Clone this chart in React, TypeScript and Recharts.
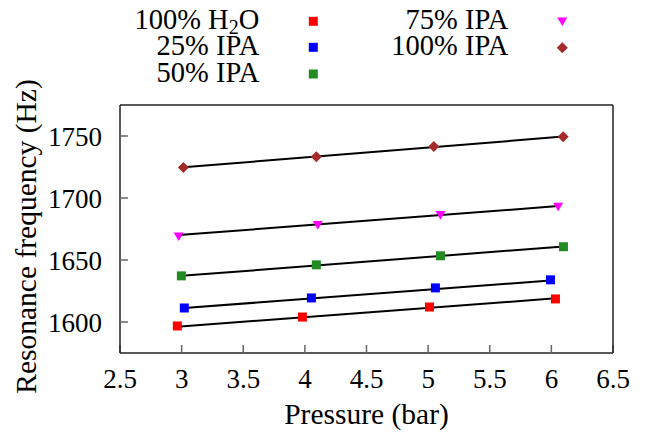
import React from 'react';
import { ComposedChart, Scatter, XAxis, YAxis, Label } from 'recharts';

// ---- Data ----
const seriesNames = ['100% H2O', '25% IPA', '50% IPA', '75% IPA', '100% IPA'];

const pressureH2O = [2.965, 3.98, 5.011, 6.033];
const freqH2O = [1596.8, 1604.0, 1612.1, 1618.6];

const pressureIPA25 = [3.022, 4.053, 5.059, 5.993];
const freqIPA25 = [1611.3, 1619.4, 1627.5, 1634.0];

const pressureIPA50 = [2.998, 4.093, 5.1, 6.098];
const freqIPA50 = [1637.2, 1646.1, 1653.4, 1660.7];

const pressureIPA75 = [2.976, 4.105, 5.1, 6.055];
const freqIPA75 = [1668.8, 1677.9, 1686.0, 1692.7];

const pressureIPA100 = [3.014, 4.093, 5.046, 6.096];
const freqIPA100 = [1724.6, 1733.2, 1741.6, 1749.3];

// fitted line end points
const fitH2OX = [2.965, 6.033];
const fitH2OY = [1596.2, 1619.1];
const fitIPA25X = [3.022, 5.993];
const fitIPA25Y = [1611.3, 1633.4];
const fitIPA50X = [2.998, 6.098];
const fitIPA50Y = [1637.2, 1660.9];
const fitIPA75X = [2.976, 6.055];
const fitIPA75Y = [1670.1, 1693.5];
const fitIPA100X = [3.014, 6.096];
const fitIPA100Y = [1724.8, 1749.5];

const xTicks = [2.5, 3, 3.5, 4, 4.5, 5, 5.5, 6, 6.5];
const yTicks = [1600, 1650, 1700, 1750];
const xDomain = [2.5, 6.5];
const yDomain = [1575, 1775];

const toPts = (xs: number[], ys: number[]) => xs.map((x, i) => ({ x, y: ys[i] }));

const FONT = '"Liberation Serif", "Times New Roman", serif';

const COLORS = {
  red: '#ff0000',
  blue: '#0000ff',
  green: '#228b22',
  magenta: '#ff00ff',
  brown: '#a52a2a',
};

const square = (color: string) => (p: any) => (
  <rect x={p.cx - 4.5} y={p.cy - 4.5} width={9} height={9} fill={color} />
);
const triangleDown = (color: string) => (p: any) => (
  <polygon
    points={`${p.cx - 5},${p.cy - 4.3} ${p.cx + 5},${p.cy - 4.3} ${p.cx},${p.cy + 4.3}`}
    fill={color}
  />
);
const diamond = (color: string) => (p: any) => (
  <polygon
    points={`${p.cx},${p.cy - 5.5} ${p.cx + 5.5},${p.cy} ${p.cx},${p.cy + 5.5} ${p.cx - 5.5},${p.cy}`}
    fill={color}
  />
);
const noShape = () => <g />;

const fitLine = { stroke: '#000', strokeWidth: 2 };

const Legend2 = () => {
  const col1X = 259.3;
  const col2X = 508.3;
  const m1X = 313.3;
  const m2X = 562.3;
  return (
    <svg
      width={646}
      height={100}
      style={{ position: 'absolute', left: 0, top: 0, pointerEvents: 'none' }}
      fontFamily={FONT}
      fontSize={28.5}
    >
      <text x={col1X} y={29.3} textAnchor="end" fill="#000">
        100% H<tspan fontSize={20} dy={4.5}>2</tspan><tspan dy={-4.5}>O</tspan>
      </text>
      <text x={col1X} y={55.3} textAnchor="end" fill="#000">{seriesNames[1]}</text>
      <text x={col1X} y={81.7} textAnchor="end" fill="#000">{seriesNames[2]}</text>
      <text x={col2X} y={28.8} textAnchor="end" fill="#000">{seriesNames[3]}</text>
      <text x={col2X} y={55.3} textAnchor="end" fill="#000">{seriesNames[4]}</text>
      {square(COLORS.red)({ cx: m1X, cy: 21.3 })}
      {square(COLORS.blue)({ cx: m1X, cy: 47.3 })}
      {square(COLORS.green)({ cx: m1X, cy: 74 })}
      {triangleDown(COLORS.magenta)({ cx: m2X, cy: 21.7 })}
      {diamond(COLORS.brown)({ cx: m2X, cy: 47.7 })}
    </svg>
  );
};

export default function App() {
  const tickStyle = { fontSize: 27, fontFamily: FONT, fill: '#000' };
  const axisLine = { stroke: '#222', strokeWidth: 1.5 };
  const tickLine = { stroke: '#666', strokeWidth: 1.5 };
  return (
    <div style={{ position: 'absolute', left: 0, top: 0, width: 646, height: 432, background: '#fff' }}>
      <ComposedChart
        width={646}
        height={432}
        margin={{ top: 104, right: 32, left: 0, bottom: 0 }}
      >
        <XAxis
          xAxisId="b"
          type="number"
          dataKey="x"
          orientation="bottom"
          domain={xDomain}
          ticks={xTicks}
          interval={0}
          allowDataOverflow
          height={79}
          tickSize={-8}
          tickMargin={24}
          tick={tickStyle}
          axisLine={axisLine}
          tickLine={tickLine}
        >
          <Label
            value="Pressure (bar)"
            position="insideBottom"
            offset={8}
            style={{ fontSize: 29.5, fontFamily: FONT, fill: '#000' }}
          />
        </XAxis>
        <XAxis
          xAxisId="t"
          type="number"
          dataKey="x"
          orientation="top"
          domain={xDomain}
          ticks={xTicks}
          interval={0}
          allowDataOverflow
          height={1}
          tickSize={-8}
          tick={false}
          axisLine={axisLine}
          tickLine={tickLine}
        />
        <YAxis
          yAxisId="l"
          type="number"
          dataKey="y"
          orientation="left"
          domain={yDomain}
          ticks={yTicks}
          interval={0}
          allowDataOverflow
          width={120}
          tickSize={-8}
          tickMargin={26}
          tick={tickStyle}
          axisLine={axisLine}
          tickLine={tickLine}
        >
          <Label
            value="Resonance frequency (Hz)"
            angle={-90}
            position={{ x: 36, y: 131.5 }}
            style={{ fontSize: 29.5, fontFamily: FONT, fill: '#000', textAnchor: 'middle' }}
          />
        </YAxis>
        <YAxis
          yAxisId="r"
          type="number"
          dataKey="y"
          orientation="right"
          domain={yDomain}
          ticks={yTicks}
          interval={0}
          allowDataOverflow
          width={1}
          tickSize={-8}
          tick={false}
          axisLine={axisLine}
          tickLine={tickLine}
        />

        <Scatter xAxisId="b" yAxisId="l" data={toPts(fitH2OX, fitH2OY)} line={fitLine} lineType="joint" shape={noShape} isAnimationActive={false} />
        <Scatter xAxisId="b" yAxisId="l" data={toPts(fitIPA25X, fitIPA25Y)} line={fitLine} lineType="joint" shape={noShape} isAnimationActive={false} />
        <Scatter xAxisId="b" yAxisId="l" data={toPts(fitIPA50X, fitIPA50Y)} line={fitLine} lineType="joint" shape={noShape} isAnimationActive={false} />
        <Scatter xAxisId="b" yAxisId="l" data={toPts(fitIPA75X, fitIPA75Y)} line={fitLine} lineType="joint" shape={noShape} isAnimationActive={false} />
        <Scatter xAxisId="b" yAxisId="l" data={toPts(fitIPA100X, fitIPA100Y)} line={fitLine} lineType="joint" shape={noShape} isAnimationActive={false} />

        <Scatter name={seriesNames[0]} xAxisId="b" yAxisId="l" data={toPts(pressureH2O, freqH2O)} shape={square(COLORS.red)} isAnimationActive={false} />
        <Scatter name={seriesNames[1]} xAxisId="b" yAxisId="l" data={toPts(pressureIPA25, freqIPA25)} shape={square(COLORS.blue)} isAnimationActive={false} />
        <Scatter name={seriesNames[2]} xAxisId="b" yAxisId="l" data={toPts(pressureIPA50, freqIPA50)} shape={square(COLORS.green)} isAnimationActive={false} />
        <Scatter name={seriesNames[3]} xAxisId="b" yAxisId="l" data={toPts(pressureIPA75, freqIPA75)} shape={triangleDown(COLORS.magenta)} isAnimationActive={false} />
        <Scatter name={seriesNames[4]} xAxisId="b" yAxisId="l" data={toPts(pressureIPA100, freqIPA100)} shape={diamond(COLORS.brown)} isAnimationActive={false} />
      </ComposedChart>
      <Legend2 />
    </div>
  );
}
